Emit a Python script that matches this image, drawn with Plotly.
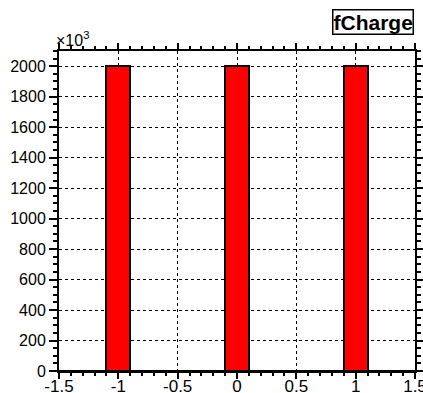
import numpy as np
import plotly.graph_objects as go

# Histogram of fCharge: 15 bins over [-1.5, 1.5], counts in units of 10^3
bin_edges = [-1.5, -1.3, -1.1, -0.9, -0.7, -0.5, -0.3, -0.1, 0.1, 0.3, 0.5, 0.7, 0.9, 1.1, 1.3, 1.5]
counts_k = [0, 0, 2000, 0, 0, 0, 0, 2000, 0, 0, 0, 0, 2000, 0, 0]
x_ticks = [-1.5, -1, -0.5, 0, 0.5, 1, 1.5]
x_tick_text = ["-1.5", "-1", "-0.5", "0", "0.5", "1", "1.5"]
y_ticks = list(range(0, 2001, 200))
title_text = "fCharge"

edges = np.array(bin_edges)
centers = (edges[:-1] + edges[1:]) / 2
widths = edges[1:] - edges[:-1]
y_max = max(counts_k) * 1.05

fig = go.Figure()
fig.add_trace(go.Bar(
    x=centers, y=counts_k, width=widths,
    marker=dict(color="#ff0000", line=dict(color="black", width=2)),
    hoverinfo="x+y",
))

font_family = "Liberation Sans, Arial, Helvetica, sans-serif"
axis_common = dict(
    showline=True, linecolor="black", linewidth=2,
    ticks="outside", mirror="ticks", tickcolor="black", tickwidth=1.5,
    showgrid=True, gridcolor="black", gridwidth=1, griddash="3px,3px",
    zeroline=False, automargin=False, ticklabeloverflow="allow",
)

fig.update_layout(
    width=423, height=393,
    margin=dict(l=59, r=8, t=51, b=22),
    paper_bgcolor="white", plot_bgcolor="white",
    showlegend=False, bargap=0,
    xaxis=dict(
        range=[-1.5, 1.5], tickmode="array", tickvals=x_ticks, ticktext=x_tick_text,
        ticklen=6, ticklabelstandoff=-7,
        tickfont=dict(family=font_family, size=17, color="black"),
        minor=dict(dtick=0.1, tick0=-1.5, ticks="outside", ticklen=3, tickcolor="black",
                   showgrid=False),
        **axis_common,
    ),
    yaxis=dict(
        range=[0, y_max], tickmode="array", tickvals=y_ticks,
        ticklen=8, ticklabelstandoff=0,
        tickfont=dict(family=font_family, size=16, color="black"),
        minor=dict(dtick=50, tick0=0, ticks="outside", ticklen=4, tickcolor="black",
                   showgrid=False),
        **axis_common,
    ),
    annotations=[
        dict(
            text="<b>" + title_text + "</b>", xref="paper", yref="paper",
            x=1.0, y=1.0, xanchor="right", yanchor="bottom", yshift=16, xshift=-1,
            showarrow=False, bgcolor="white", bordercolor="black", borderwidth=1.5,
            borderpad=0,
            font=dict(family=font_family, size=21, color="black"),
        ),
        dict(
            text="×10<sup>3</sup>", xref="paper", yref="paper",
            x=0.0, y=1.0, xanchor="left", yanchor="bottom", xshift=-5, yshift=0,
            showarrow=False,
            font=dict(family=font_family, size=16, color="black"),
        ),
    ],
)

fig.write_html("out.html")
